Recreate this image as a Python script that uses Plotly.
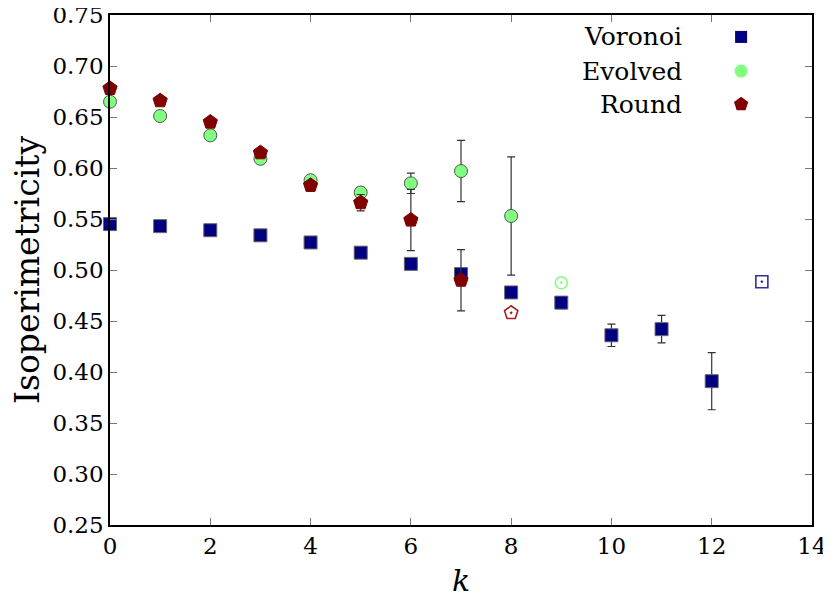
import plotly.graph_objects as go

# ---- data ----
vor_k = [0, 1, 2, 3, 4, 5, 6, 7, 8, 9, 10, 11, 12]
vor_v = [0.545, 0.543, 0.539, 0.534, 0.527, 0.517, 0.506, 0.496, 0.478, 0.468, 0.436, 0.442, 0.391]
vor_e = [0.002, 0.002, 0.002, 0.002, 0.002, 0.002, 0.002, 0.003, 0.004, 0.006, 0.011, 0.0135, 0.028]
vor_open_k = [13]
vor_open_v = [0.4885]

evo_k = [0, 1, 2, 3, 4, 5, 6, 7, 8]
evo_v = [0.665, 0.651, 0.632, 0.609, 0.588, 0.576, 0.585, 0.597, 0.553]
evo_e = [0.002, 0.002, 0.002, 0.002, 0.002, 0.005, 0.010, 0.030, 0.058]
evo_open_k = [9]
evo_open_v = [0.4875]

rnd_k = [0, 1, 2, 3, 4, 5, 6, 7]
rnd_v = [0.678, 0.666, 0.645, 0.615, 0.583, 0.566, 0.549, 0.490]
rnd_e = [0.001, 0.001, 0.001, 0.002, 0.003, 0.008, 0.030, 0.030]
rnd_open_k = [8]
rnd_open_v = [0.458]

series_names = ["Voronoi", "Evolved", "Round"]
x_ticks = [0, 2, 4, 6, 8, 10, 12, 14]
y_ticks = [0.25, 0.30, 0.35, 0.40, 0.45, 0.50, 0.55, 0.60, 0.65, 0.70, 0.75]

NAVY = "#000080"
GREEN = "#80ff80"
DRED = "#800000"
ERR = "#333333"
FONT = "'DejaVu Serif', 'Liberation Serif', serif"

fig = go.Figure()

def add_series(k, v, e, symbol, size, color, line_color):
    fig.add_trace(go.Scatter(
        x=k, y=v, mode="markers", cliponaxis=False, showlegend=False,
        error_y=dict(type="data", array=e, visible=True, color=ERR, thickness=1.2, width=4),
        marker=dict(symbol=symbol, size=size, color=color, line=dict(color=line_color, width=1)),
    ))

def add_open(k, v, symbol, size, color):
    fig.add_trace(go.Scatter(
        x=k, y=v, mode="markers", cliponaxis=False, showlegend=False,
        marker=dict(symbol=symbol, size=size, color=color, line=dict(color=color, width=1.6)),
    ))

add_series(vor_k, vor_v, vor_e, "square", 13, NAVY, "#666666")
add_series(evo_k, evo_v, evo_e, "circle", 13, GREEN, "#555555")
add_series(rnd_k, rnd_v, rnd_e, "pentagon", 15, DRED, DRED)
add_open(vor_open_k, vor_open_v, "square-open-dot", 12, "#3030a0")
add_open(evo_open_k, evo_open_v, "circle-open-dot", 12, GREEN)
add_open(rnd_open_k, rnd_open_v, "pentagon-open-dot", 14, "#a02020")

# legend keys (marker on the right of the text, as in the reference)
leg_y = [0.957, 0.890, 0.825]
leg_sym = ["square", "circle", "pentagon"]
leg_col = [NAVY, GREEN, DRED]
leg_size = [12, 13, 15]
for name, yy, s, c, sz in zip(series_names, leg_y, leg_sym, leg_col, leg_size):
    fig.add_trace(go.Scatter(
        x=[0.899], y=[yy], xaxis="x2", yaxis="y2", mode="markers", showlegend=False,
        hoverinfo="skip", marker=dict(symbol=s, size=sz, color=c),
    ))
    fig.add_annotation(text=name, xref="paper", yref="paper", x=0.818, y=yy,
                       xanchor="right", yanchor="middle", showarrow=False,
                       font=dict(family=FONT, size=25, color="black"))

axis_common = dict(showgrid=False, zeroline=False, showline=True, linecolor="black",
                   linewidth=1.5, mirror="ticks", ticks="inside", ticklen=7,
                   tickcolor="#777777", tickwidth=1, automargin=False,
                   ticklabeloverflow="allow",
                   tickfont=dict(family=FONT, size=23, color="black"))

# the page body adds an 8px offset, so the figure is sized 823x592
fig.update_layout(
    width=823, height=592,
    margin=dict(l=102, r=19, t=7, b=75),
    plot_bgcolor="white", paper_bgcolor="white",
    xaxis=dict(range=[0, 14], tickvals=x_ticks, ticktext=[str(t) for t in x_ticks],
               title=dict(text="<i>k</i>", font=dict(family=FONT, size=30, color="black"), standoff=12),
               **axis_common),
    yaxis=dict(range=[0.25, 0.75], tickvals=y_ticks, ticktext=[f"{t:.2f}" for t in y_ticks],
               title=dict(text="Isoperimetricity", font=dict(family=FONT, size=33, color="black"), standoff=12),
               **axis_common),
    xaxis2=dict(range=[0, 1], overlaying="x", visible=False),
    yaxis2=dict(range=[0, 1], overlaying="y", visible=False),
)

fig.write_html("out.html")
